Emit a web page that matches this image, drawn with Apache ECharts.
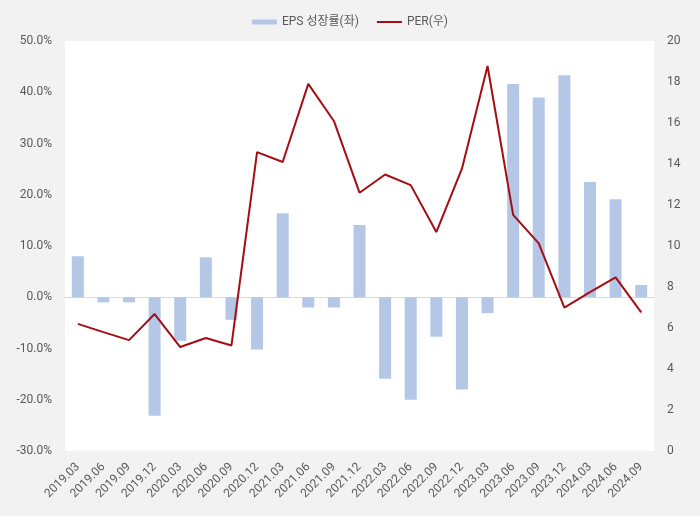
<!DOCTYPE html>
<html><head><meta charset="utf-8">
<script src="https://cdn.jsdelivr.net/npm/echarts@6/dist/echarts.min.js"></script>
<style>html,body{margin:0;padding:0;background:#f2f2f2}#c{width:700px;height:516px}</style>
</head><body><div id="c"></div>
<script>
const categories = ['2019.03','2019.06','2019.09','2019.12','2020.03','2020.06','2020.09','2020.12','2021.03','2021.06','2021.09','2021.12','2022.03','2022.06','2022.09','2022.12','2023.03','2023.06','2023.09','2023.12','2024.03','2024.06','2024.09'];
const epsGrowth = [8.0,-1.0,-1.0,-23.1,-8.5,7.8,-4.4,-10.2,16.4,-2.0,-2.0,14.1,-15.9,-20.0,-7.7,-18.0,-3.1,41.6,39.0,43.3,22.5,19.1,2.4];
const per = [6.2,5.8,5.41,6.68,5.07,5.51,5.15,14.58,14.1,17.91,16.1,12.6,13.49,12.97,10.68,13.77,18.78,11.52,10.13,6.99,7.75,8.47,6.76];
const seriesNames = ['EPS 성장률(좌)','PER(우)'];

const font = 'Roboto, "Noto Sans CJK KR", sans-serif';
const chart = echarts.init(document.getElementById('c'));
chart.setOption({
  backgroundColor: '#f2f2f2',
  textStyle: {fontFamily: font},
  legend: {
    top: 11, left: 'center', itemGap: 18, itemWidth: 25, itemHeight: 8,
    textStyle: {color: '#595959', fontSize: 12, fontFamily: font},
    data: [
      {name: seriesNames[0], icon: 'path://M0,0h0.01v0.01h-0.01z M0,1.5h25v5h-25z M24.99,7.99h0.01v0.01h-0.01z'},
      {name: seriesNames[1], icon: 'path://M0,0h0.01v0.01h-0.01z M0,3h25v2h-25z M24.99,7.99h0.01v0.01h-0.01z'}
    ]
  },
  grid: {left: 65, right: 46, top: 41, bottom: 65, show: true, backgroundColor: '#ffffff', borderWidth: 0},
  xAxis: {
    type: 'category', data: categories,
    axisLine: {lineStyle: {color: '#d9d9d9', width: 1}},
    axisTick: {show: false},
    axisLabel: {rotate: 45, color: '#595959', fontSize: 12, interval: 0, margin: 14}
  },
  yAxis: [
    {type: 'value', min: -30, max: 50, interval: 10,
     splitLine: {show: false}, axisLine: {show: false}, axisTick: {show: false},
     axisLabel: {color: '#595959', fontSize: 12, margin: 13, formatter: v => v.toFixed(1) + '%'}},
    {type: 'value', min: 0, max: 20, interval: 2,
     splitLine: {show: false}, axisLine: {show: false}, axisTick: {show: false},
     axisLabel: {color: '#595959', fontSize: 12, margin: 13}}
  ],
  series: [
    {name: seriesNames[0], type: 'bar', data: epsGrowth, barWidth: 12, itemStyle: {color: '#b4c7e7'}, yAxisIndex: 0},
    {name: seriesNames[1], type: 'line', data: per, yAxisIndex: 1, symbol: 'none',
     lineStyle: {color: '#a50d12', width: 2}, itemStyle: {color: '#a50d12'}}
  ]
});
</script></body></html>
